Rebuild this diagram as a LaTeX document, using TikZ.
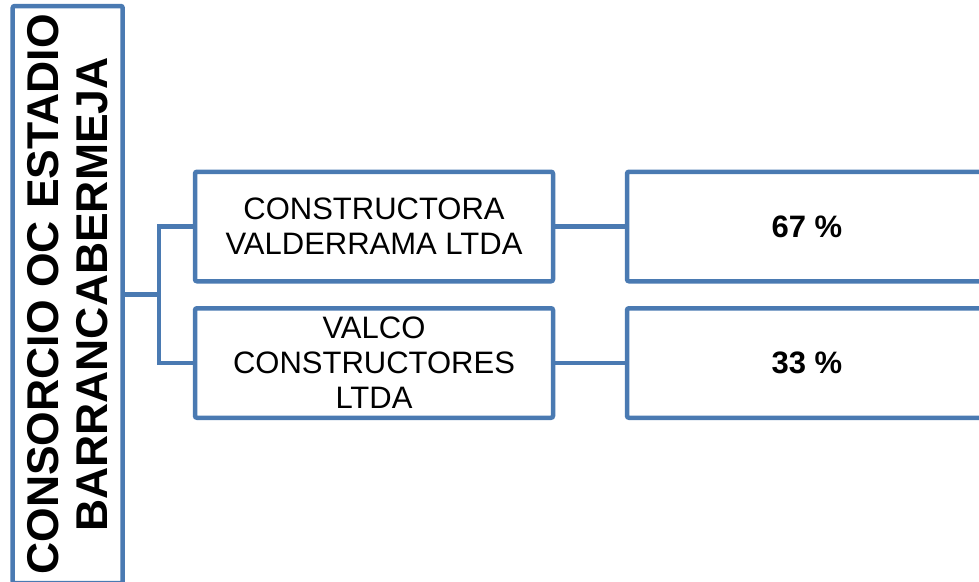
\documentclass[tikz,border=0pt]{standalone}
\usepackage{fontspec}
\setmainfont{Liberation Sans}
\usetikzlibrary{positioning}
\definecolor{boxblue}{RGB}{74,122,178}

\begin{document}
\begin{tikzpicture}[x=1pt, y=-1pt, node distance=136.5pt, on grid,
    box/.style={draw=boxblue, line width=4.5pt, rounded corners=2pt, align=center,
        font=\fontsize{31}{35}\selectfont},
    link/.style={draw=boxblue, line width=4.5pt}]
    \useasboundingbox (0,0) rectangle (979,581);

    \node[box, rotate=90, minimum width=577pt, minimum height=110pt,
        font=\bfseries\fontsize{44.5}{49}\selectfont] (cons) at (67.7,294.5)
        {CONSORCIO OC ESTADIO\\BARRANCABERMEJA};
    \node[box, minimum width=358pt, minimum height=109.5pt] (valderrama) at (374,226.5)
        {CONSTRUCTORA\\VALDERRAMA LTDA};
    \node[box, minimum width=358pt, minimum height=109.5pt] (valco) [below=of valderrama]
        {VALCO\\CONSTRUCTORES\\LTDA};
    \node[box, minimum width=360pt, minimum height=109.5pt, font=\bfseries\fontsize{31}{35}\selectfont]
        (share1) [right=433pt of valderrama] {67 \%};
    \node[box, minimum width=360pt, minimum height=109.5pt, font=\bfseries\fontsize{31}{35}\selectfont]
        (share2) [right=433pt of valco] {33 \%};
    \coordinate (fork) at (159,294.5);

    \path[link]
    (cons.south) -- (fork)
    (fork) |- (valderrama.west)
    (fork) |- (valco.west)
    (valderrama.east) -- (share1.west)
    (valco.east) -- (share2.west);
\end{tikzpicture}
\end{document}
